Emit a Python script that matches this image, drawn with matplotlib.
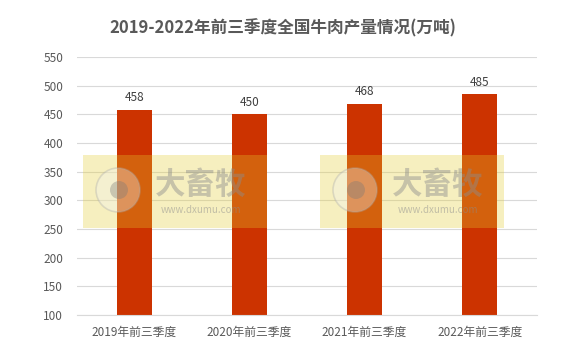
import matplotlib.pyplot as plt
from matplotlib.patches import Rectangle, Circle

plt.rcParams['font.family'] = ['Noto Sans CJK SC', 'DejaVu Sans']

categories = ['2019年前三季度', '2020年前三季度', '2021年前三季度', '2022年前三季度']
values = [458, 450, 468, 485]
yticks = [100, 150, 200, 250, 300, 350, 400, 450, 500, 550]

fig = plt.figure(figsize=(5.66, 3.54), dpi=100)
ax = fig.add_axes([0.136, 0.110, 0.813, 0.729])

x = range(len(categories))
ax.bar(x, values, width=0.31, color='#CC3300', zorder=2)
for i, v in zip(x, values):
    ax.text(i, v + 10, str(v), ha='center', va='bottom', fontsize=8.5, color='#404040')

ax.set_ylim(100, 550)
ax.set_xlim(-0.5, len(categories) - 0.5)
ax.set_yticks(yticks)
ax.set_xticks(list(x))
ax.set_xticklabels(categories)
ax.grid(axis='y', color='#D9D9D9', linewidth=0.8, zorder=0)
for s in ['top', 'right', 'left']:
    ax.spines[s].set_visible(False)
ax.spines['bottom'].set_color('#D9D9D9')
ax.tick_params(axis='both', length=0, labelsize=8.5, colors='#595959')
ax.tick_params(axis='x', pad=8)
ax.tick_params(axis='y', pad=10)

fig.text(0.5, 0.92, '2019-2022年前三季度全国牛肉产量情况(万吨)', ha='center', va='center',
         fontsize=12, fontweight='bold', color='#595959')

# watermark boxes
W, H = 566, 354
for x0 in [83, 320]:
    fig.patches.append(Rectangle((x0 / W, 1 - 228 / H), 184 / W, 73 / H,
                                 transform=fig.transFigure, facecolor='#E4CD2D',
                                 alpha=0.3, edgecolor='none', zorder=5))
    fig.patches.append(Circle((x0 + 35, H - 190), 22, transform=None,
                              facecolor='#F2F2F2', edgecolor='#AAAAAA', linewidth=1.2,
                              alpha=0.35, zorder=6))
    fig.patches.append(Circle((x0 + 36, H - 190), 9, transform=None,
                              facecolor='#777777', alpha=0.35, zorder=7))
    fig.text((x0 + 118) / W, 1 - 185 / H, '大畜牧', ha='center', va='center', fontsize=22,
             fontweight='bold', color='#8C8C8C', alpha=0.45, zorder=8)
    fig.text((x0 + 118) / W, 1 - 210 / H, 'www.dxumu.com', ha='center', va='center', fontsize=7,
             color='#8C8C8C', alpha=0.5, zorder=8)

fig.savefig('out.png', dpi=100)
